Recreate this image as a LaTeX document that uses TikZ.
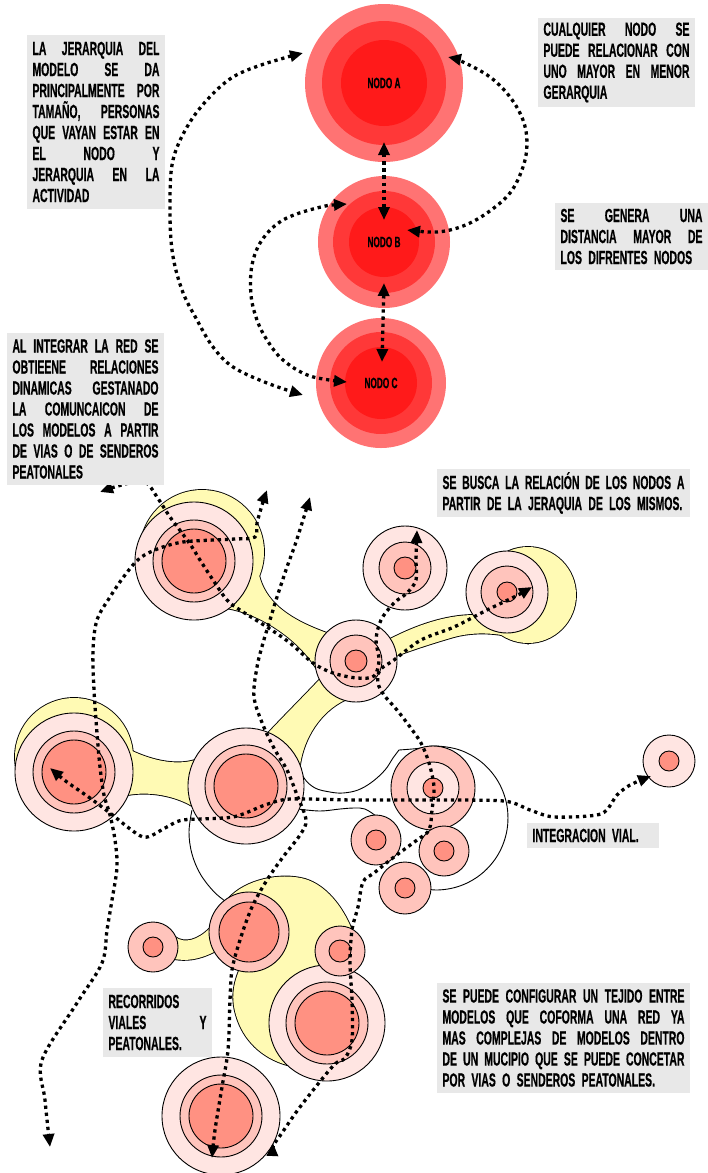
\documentclass[tikz,border=0pt]{standalone}
\usepackage{fontspec}
\setmainfont{Liberation Sans}[FakeStretch=0.55,UprightFont=* Bold,FakeBold=0.5]
\usetikzlibrary{arrows.meta,calc}

\definecolor{boxgray}{RGB}{232,232,232}
\definecolor{redout}{RGB}{255,115,115}
\definecolor{redmid}{RGB}{255,56,56}
\definecolor{redin}{RGB}{255,26,26}
\definecolor{pinkA}{RGB}{255,229,226}
\definecolor{pinkB}{RGB}{255,196,188}
\definecolor{pinkC}{RGB}{255,145,130}
\definecolor{blobyellow}{RGB}{255,250,180}

% one justified line of a text box (spaces stretch to fill the width)
\newcommand\jl[1]{\makebox[\hsize][s]{\spaceskip=0.25em plus 1fil\relax #1}}

% three nested rings: light, medium, salmon
\newcommand\ringset[5]{%
  \filldraw[ringline,fill=pinkA] (#1,#2) circle[radius=#3pt];
  \filldraw[ringline,fill=pinkB] (#1,#2) circle[radius=#4pt];
  \filldraw[ringline,fill=pinkC] (#1,#2) circle[radius=#5pt];}
% two rings: medium with salmon core
\newcommand\duoset[4]{%
  \filldraw[ringline,fill=pinkB] (#1,#2) circle[radius=#3pt];
  \filldraw[ringline,fill=pinkC] (#1,#2) circle[radius=#4pt];}

% yellow blobs joining the nodes
\newcommand\yellowparts[1]{%
  \path[#1] (202,552) circle[radius=62pt];
  \path[#1] (259,575) .. controls (265,600) and (285,618) .. (327,633) -- (356,661) -- (316,668)
            .. controls (295,635) and (255,612) .. (225,608) -- (202,552) -- cycle;
  \path[#1] (320,679) .. controls (302,698) and (284,716) .. (268,733) -- (246,786) -- (300,765)
            .. controls (304,738) and (320,712) .. (345,700) -- (356,661) -- cycle;
  \path[#1] (390,639) .. controls (415,626) and (445,615) .. (474,615) -- (507,592) -- (527,643)
            .. controls (510,634) and (480,630) .. (454,637) .. controls (430,644) and (412,650) .. (396,656)
            -- (356,661) -- cycle;
  \path[#1] (528,595) circle[radius=48pt];
  \path[#1] (128,749) .. controls (150,760) and (175,766) .. (195,760) -- (246,786) -- (192,806)
            .. controls (175,796) and (150,791) .. (128,795) -- (74,772) -- cycle;
  \path[#1] (74,757) circle[radius=59pt];
  \path[#1] (229,898) .. controls (245,880) and (280,872) .. (305,879) .. controls (325,885) and (342,905) .. (352,930)
            -- (345,970) -- (330,1040) -- (287,1065) .. controls (262,1058) and (243,1040) .. (236,1015)
            .. controls (231,998) and (233,985) .. (240,968) -- cycle;
  \path[#1] (175,937) .. controls (185,944) and (198,940) .. (210,928) -- (249,932) -- (214,952)
            .. controls (198,960) and (186,961) .. (174,959) -- (153,947) -- cycle;}

\begin{document}
\begin{tikzpicture}[x=1pt,y=-1pt,
  ringline/.style={draw=black,line width=0.9pt},
  lobeline/.style={draw=black,line width=0.9pt},
  dotpath/.style={black,line width=3.3pt,dash pattern=on 3.3pt off 3.8pt},
  tipboth/.style={{Triangle[length=13pt,width=11pt]}-{Triangle[length=13pt,width=11pt]}},
  corenode/.style={circle,fill=redin,inner sep=0pt,font=\fontsize{15pt}{15pt}\selectfont},
  txtbox/.style={fill=boxgray,inner xsep=5.5pt,inner ysep=0pt,align=left,
                 font=\fontsize{19pt}{21pt}\selectfont}]

\fill[white] (0,0) rectangle (708,1173);
\useasboundingbox (0,0) rectangle (708,1173);

% ---------- hierarchy: nodes A, B, C ----------
\fill[redout] (384,83) circle[radius=79pt];
\fill[redmid] (384,83) circle[radius=62pt];
\node[corenode,minimum size=86pt] (A) at (384,83) {NODO A};
\fill[redout] (384,242) circle[radius=66pt];
\fill[redmid] (384,242) circle[radius=51pt];
\node[corenode,minimum size=70pt] (B) at (384,242) {NODO B};
\fill[redout] (381,383) circle[radius=65pt];
\fill[redmid] (381,383) circle[radius=51pt];
\node[corenode,minimum size=72pt] (C) at (381,383) {NODO C};

\coordinate (aS) at ($(A.center)+(0,59)$);
\coordinate (bN) at ($(B.center)+(0,-22)$);
\coordinate (bS) at ($(B.center)+(0,41)$);
\coordinate (cN) at ($(C.center)+(1,-21)$);
\coordinate (aW) at ($(A.center)+(-81,-30)$);
\coordinate (cW) at ($(C.center)+(-78,12)$);
\coordinate (bW) at ($(B.center)+(-37,-38)$);
\coordinate (cW2) at ($(C.center)+(-34,-1)$);
\coordinate (aE) at ($(A.center)+(64,-26)$);
\coordinate (bE) at ($(B.center)+(23,-12)$);

\draw[dotpath,tipboth] (aS) -- (bN);
\draw[dotpath,tipboth] (bS) -- (cN);
\draw[dotpath,tipboth] plot[smooth,tension=0.6] coordinates {(aW) (267,63) (233,77) (207,100) (187,127)
  (173,160) (170,200) (172,250) (182,290) (197,320) (213,347) (233,367) (267,383) (cW)};
\draw[dotpath,tipboth] plot[smooth,tension=0.6] coordinates {(bW) (317,208) (283,220) (262,240) (252,265)
  (251,295) (257,320) (267,340) (283,360) (310,376) (cW2)};
\draw[dotpath,tipboth] plot[smooth,tension=0.6] coordinates {(aE) (463,62) (490,77) (510,97) (523,120)
  (527,143) (523,167) (510,193) (487,213) (463,226) (437,232) (bE)};

% ---------- network ----------
% outlines of the white lobes
\draw[lobeline] plot[smooth,tension=0.6] coordinates {(300,765) (304,778) (315,788) (330,792) (343,793)
  (358,790) (372,782) (385,770) (393,758) (399,750)};
\draw[lobeline] plot[smooth,tension=0.6] coordinates {(399,750) (417.4,748.5) (436,746) (460.6,750.3)
  (482.3,762.8) (498.4,782) (506.9,805.5) (506.9,830.5) (498.4,854) (482.3,873.2) (460.6,885.7)
  (436,890) (411.4,885.7)};
\draw[lobeline] plot[smooth,tension=0.6] coordinates {(191.9,810.3) (189,832) (191.9,853.7) (200.3,874)
  (213.6,891.4) (224.8,900.8)};
\draw[lobeline] plot[smooth,tension=0.6] coordinates {(298,809) (320,811) (340,809) (354,808) (365,809)
  (376,816)};

\yellowparts{draw=black,line width=1.8pt}
\yellowparts{fill=blobyellow}

\ringset{194}{561}{59}{41}{32}
\ringset{356}{661}{41}{26}{11}
\ringset{405}{568}{42}{26}{11}
\ringset{507}{592}{41}{26}{10}
\ringset{74}{772}{59}{41}{32}
\ringset{246}{786}{58}{41}{32}
\ringset{327}{1023}{58}{41}{32}
\ringset{221}{1116}{59}{41}{32}
% cluster inside the white lobe
\filldraw[ringline,fill=pinkB] (433,788) circle[radius=42pt];
\filldraw[ringline,fill=pinkA] (433,788) circle[radius=26pt];
\filldraw[ringline,fill=pinkC] (433,788) circle[radius=10pt];
\duoset{376}{840}{25}{10}
\duoset{444}{851}{25}{10}
\duoset{405}{888}{26}{10}
% isolated node on the right
\filldraw[ringline,fill=pinkA] (669,761) circle[radius=26pt];
\filldraw[ringline,fill=pinkC] (669,761) circle[radius=10pt];
% lower cluster
\duoset{249}{932}{40}{30}
\duoset{153}{947}{25}{10}
\duoset{340}{951}{25}{11}

% routes
\draw[dotpath,tipboth] plot[smooth,tension=0.55] coordinates {(100,492) (125,484) (145,482) (157,497)
  (170,517) (182,533) (192,547) (200,560) (213,580) (227,600) (240,610) (267,627) (290,643) (313,663)
  (333,673) (357,678) (374,676) (379,660) (376,640) (381,620) (394,603) (407,593) (416,580) (416,560) (417,530)};
\draw[dotpath,tipboth] plot[smooth,tension=0.55] coordinates {(267,490) (263,502) (257,523) (255,537)
  (235,539) (213,540) (183,542) (160,548) (140,558) (125,575) (110,597) (97,620) (93,650) (94,690)
  (97,733) (100,767) (104,795) (110,815) (115,840) (117,867) (112,900) (107,930) (102,963) (77,1003)
  (42,1060) (45,1100) (50,1147)};
\draw[dotpath,tipboth] plot[smooth,tension=0.55] coordinates {(310,497) (303,520) (295,545) (287,567)
  (277,597) (270,620) (263,643) (257,667) (254,697) (263,725) (275,750) (287,770) (297,795) (306,820)
  (300,835) (283,857) (267,880) (252,907) (240,940) (232,970) (230,1000) (228,1050) (222,1087)
  (215,1130) (212,1158)};
\draw[dotpath,tipboth] plot[smooth,tension=0.45] coordinates {(50,768) (67,782) (90,798) (110,813)
  (143,837) (165,828) (183,820) (233,817) (265,805) (290,799) (354,800) (430,800) (504,801) (530,810)
  (554,817) (601,814) (617,795) (630,785) (651,776)};
\draw[dotpath,tipboth] plot[smooth,tension=0.55] coordinates {(532,587) (514,597) (487,610) (454,627)
  (421,640) (394,660) (380,670) (378,683) (384,695) (397,710) (410,727) (421,743) (429,763) (434,787)
  (432,810) (429,830) (417,840) (394,857) (374,873) (363,882) (358,907) (352,930) (350,963) (352,1000)
  (352,1040) (345,1058) (333,1066) (300,1107) (277,1140) (273,1143)};

% ---------- text boxes ----------
\node[txtbox,text width=127pt,minimum height=174pt] (t1) at (96,122)
  {\jl{LA JERARQUIA DEL}\\\jl{MODELO SE DA}\\\jl{PRINCIPALMENTE POR}\\\jl{TAMAÑO, PERSONAS}\\
   \jl{QUE VAYAN ESTAR EN}\\\jl{EL NODO Y}\\\jl{JERARQUIA EN LA}\\ACTIVIDAD};
\node[txtbox,text width=146pt,minimum height=89pt] (t2) at (616.5,62.5)
  {\jl{CUALQUIER NODO SE}\\\jl{PUEDE RELACIONAR CON}\\\jl{UNO MAYOR EN MENOR}\\GERARQUIA};
\node[txtbox,text width=142pt,minimum height=67pt] (t3) at (631.5,236.5)
  {\jl{SE GENERA UNA}\\\jl{DISTANCIA MAYOR DE}\\LOS DIFRENTES NODOS};
\node[txtbox,text width=146pt,minimum height=152pt] (t4) at (85.5,409)
  {\jl{AL INTEGRAR LA RED SE}\\\jl{OBTIEENE RELACIONES}\\\jl{DINAMICAS GESTANADO}\\\jl{LA COMUNCAICON DE}\\
   \jl{LOS MODELOS A PARTIR}\\\jl{DE VIAS O DE SENDEROS}\\PEATONALES};
\node[txtbox,text width=242pt,minimum height=48pt] (t5) at (563.5,493)
  {\jl{SE BUSCA LA RELACIÓN DE LOS NODOS A}\\PARTIR DE LA JERAQUIA DE LOS MISMOS.};
\node[txtbox,text width=121pt,minimum height=25pt] (t6) at (593,835.5) {INTEGRACION VIAL.};
\node[txtbox,text width=98pt,minimum height=69pt] (t7) at (157.5,1022.5)
  {RECORRIDOS\\\jl{VIALES Y}\\PEATONALES.};
\node[txtbox,text width=242pt,minimum height=110pt] (t8) at (563.5,1038)
  {\jl{SE PUEDE CONFIGURAR UN TEJIDO ENTRE}\\\jl{MODELOS QUE COFORMA UNA RED YA}\\
   \jl{MAS COMPLEJAS DE MODELOS DENTRO}\\\jl{DE UN MUCIPIO QUE SE PUEDE CONCETAR}\\
   POR VIAS O SENDEROS PEATONALES.};

\end{tikzpicture}
\end{document}
